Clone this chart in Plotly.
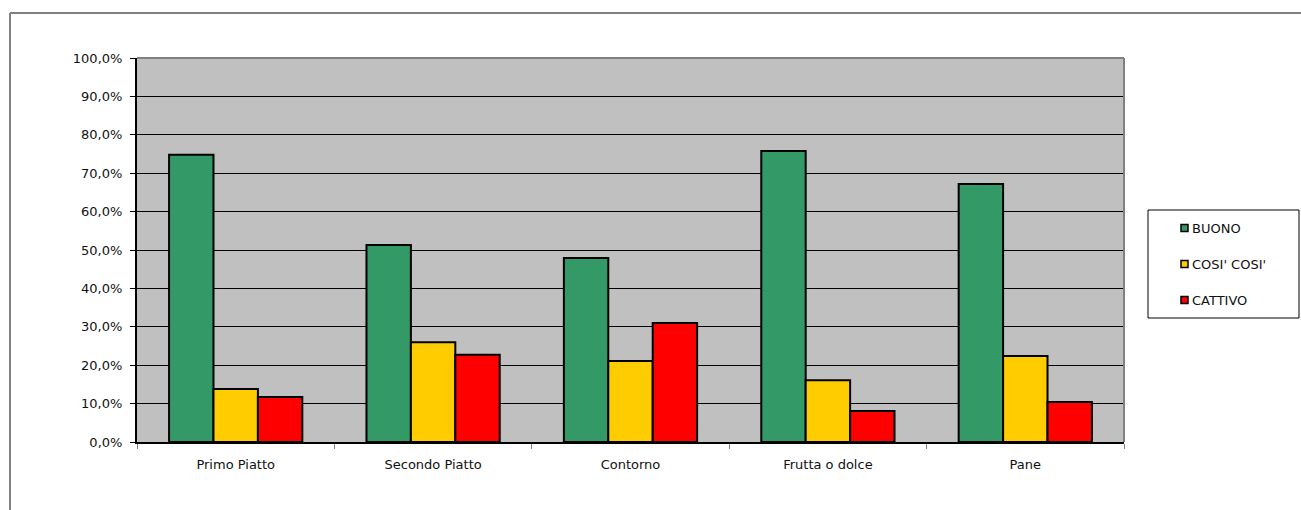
import plotly.graph_objects as go

categories = ["Primo Piatto", "Secondo Piatto", "Contorno", "Frutta o dolce", "Pane"]
series_names = ["BUONO", "COSI' COSI'", "CATTIVO"]
buono = [0.748, 0.513, 0.479, 0.758, 0.672]
cosi = [0.138, 0.260, 0.211, 0.161, 0.224]
cattivo = [0.117, 0.227, 0.310, 0.081, 0.104]
colors = ["#339966", "#FFCC00", "#FF0000"]
y_ticks = [i / 10 for i in range(11)]

# screen coords of plot area
L, R, T, B = 137, 1124, 58, 442
W, H = 1301, 510
pw, ph = R - L, B - T

def px_x(x):
    return (x - L) / pw

def px_y(y):
    return (B - y) / ph

FONT = "DejaVu Sans, Liberation Sans, Arial"

fig = go.Figure()
for name, vals, col in zip(series_names, [buono, cosi, cattivo], colors):
    fig.add_trace(go.Bar(
        x=categories, y=vals, name=name,
        marker=dict(color=col, line=dict(color="black", width=2)),
        showlegend=False,
    ))

shapes = []
annotations = []
# outer chart frame
shapes.append(dict(type="line", xref="paper", yref="paper",
                   x0=px_x(10), x1=px_x(1320), y0=px_y(13), y1=px_y(13),
                   line=dict(color="#808080", width=2)))
shapes.append(dict(type="line", xref="paper", yref="paper",
                   x0=px_x(10), x1=px_x(10), y0=px_y(13), y1=px_y(530),
                   line=dict(color="#808080", width=2)))
# plot area top and right border
shapes.append(dict(type="line", xref="paper", yref="paper",
                   x0=0, x1=1, y0=1, y1=1, line=dict(color="#808080", width=2)))
shapes.append(dict(type="line", xref="paper", yref="paper",
                   x0=1, x1=1, y0=0, y1=1, line=dict(color="#808080", width=2)))
# legend box
shapes.append(dict(type="rect", xref="paper", yref="paper",
                   x0=px_x(1148), x1=px_x(1299), y0=px_y(318), y1=px_y(210),
                   line=dict(color="black", width=1), fillcolor="white"))
for i, (name, col) in enumerate(zip(series_names, colors)):
    yc = 228 + 36 * i
    shapes.append(dict(type="rect", xref="paper", yref="paper",
                       x0=px_x(1181), x1=px_x(1188), y0=px_y(yc + 3.5), y1=px_y(yc - 3.5),
                       line=dict(color="black", width=1.5), fillcolor=col))
    annotations.append(dict(xref="paper", yref="paper", x=px_x(1190), y=px_y(yc),
                            text=name, showarrow=False, xanchor="left", yanchor="middle",
                            font=dict(family=FONT, size=13, color="#111111")))

fig.update_layout(
    width=W, height=H,
    margin=dict(l=L, r=W - R, t=T, b=H - B, pad=0),
    paper_bgcolor="white", plot_bgcolor="#C0C0C0",
    barmode="group", bargap=0.325, bargroupgap=0,
    separators=",.",
    font=dict(family=FONT, size=13, color="#111111"),
    shapes=shapes, annotations=annotations,
    showlegend=False,
    xaxis=dict(showline=True, linecolor="black", linewidth=2, ticks="outside",
               tickson="boundaries", ticklen=5, tickcolor="#808080",
               showgrid=False, tickfont=dict(family=FONT, size=13),
               ticklabelstandoff=9),
    yaxis=dict(range=[0, 1], tickvals=y_ticks, tickformat=".1%",
               showline=True, linecolor="black", linewidth=2,
               ticks="outside", ticklen=5, tickcolor="black",
               showgrid=True, gridcolor="black", gridwidth=1, zeroline=False,
               tickfont=dict(family=FONT, size=13), ticklabelstandoff=5),
)

fig.write_html(
    "out.html",
    config={"displayModeBar": False},
    post_script="document.body.style.margin='0';document.body.style.overflow='hidden';",
)
